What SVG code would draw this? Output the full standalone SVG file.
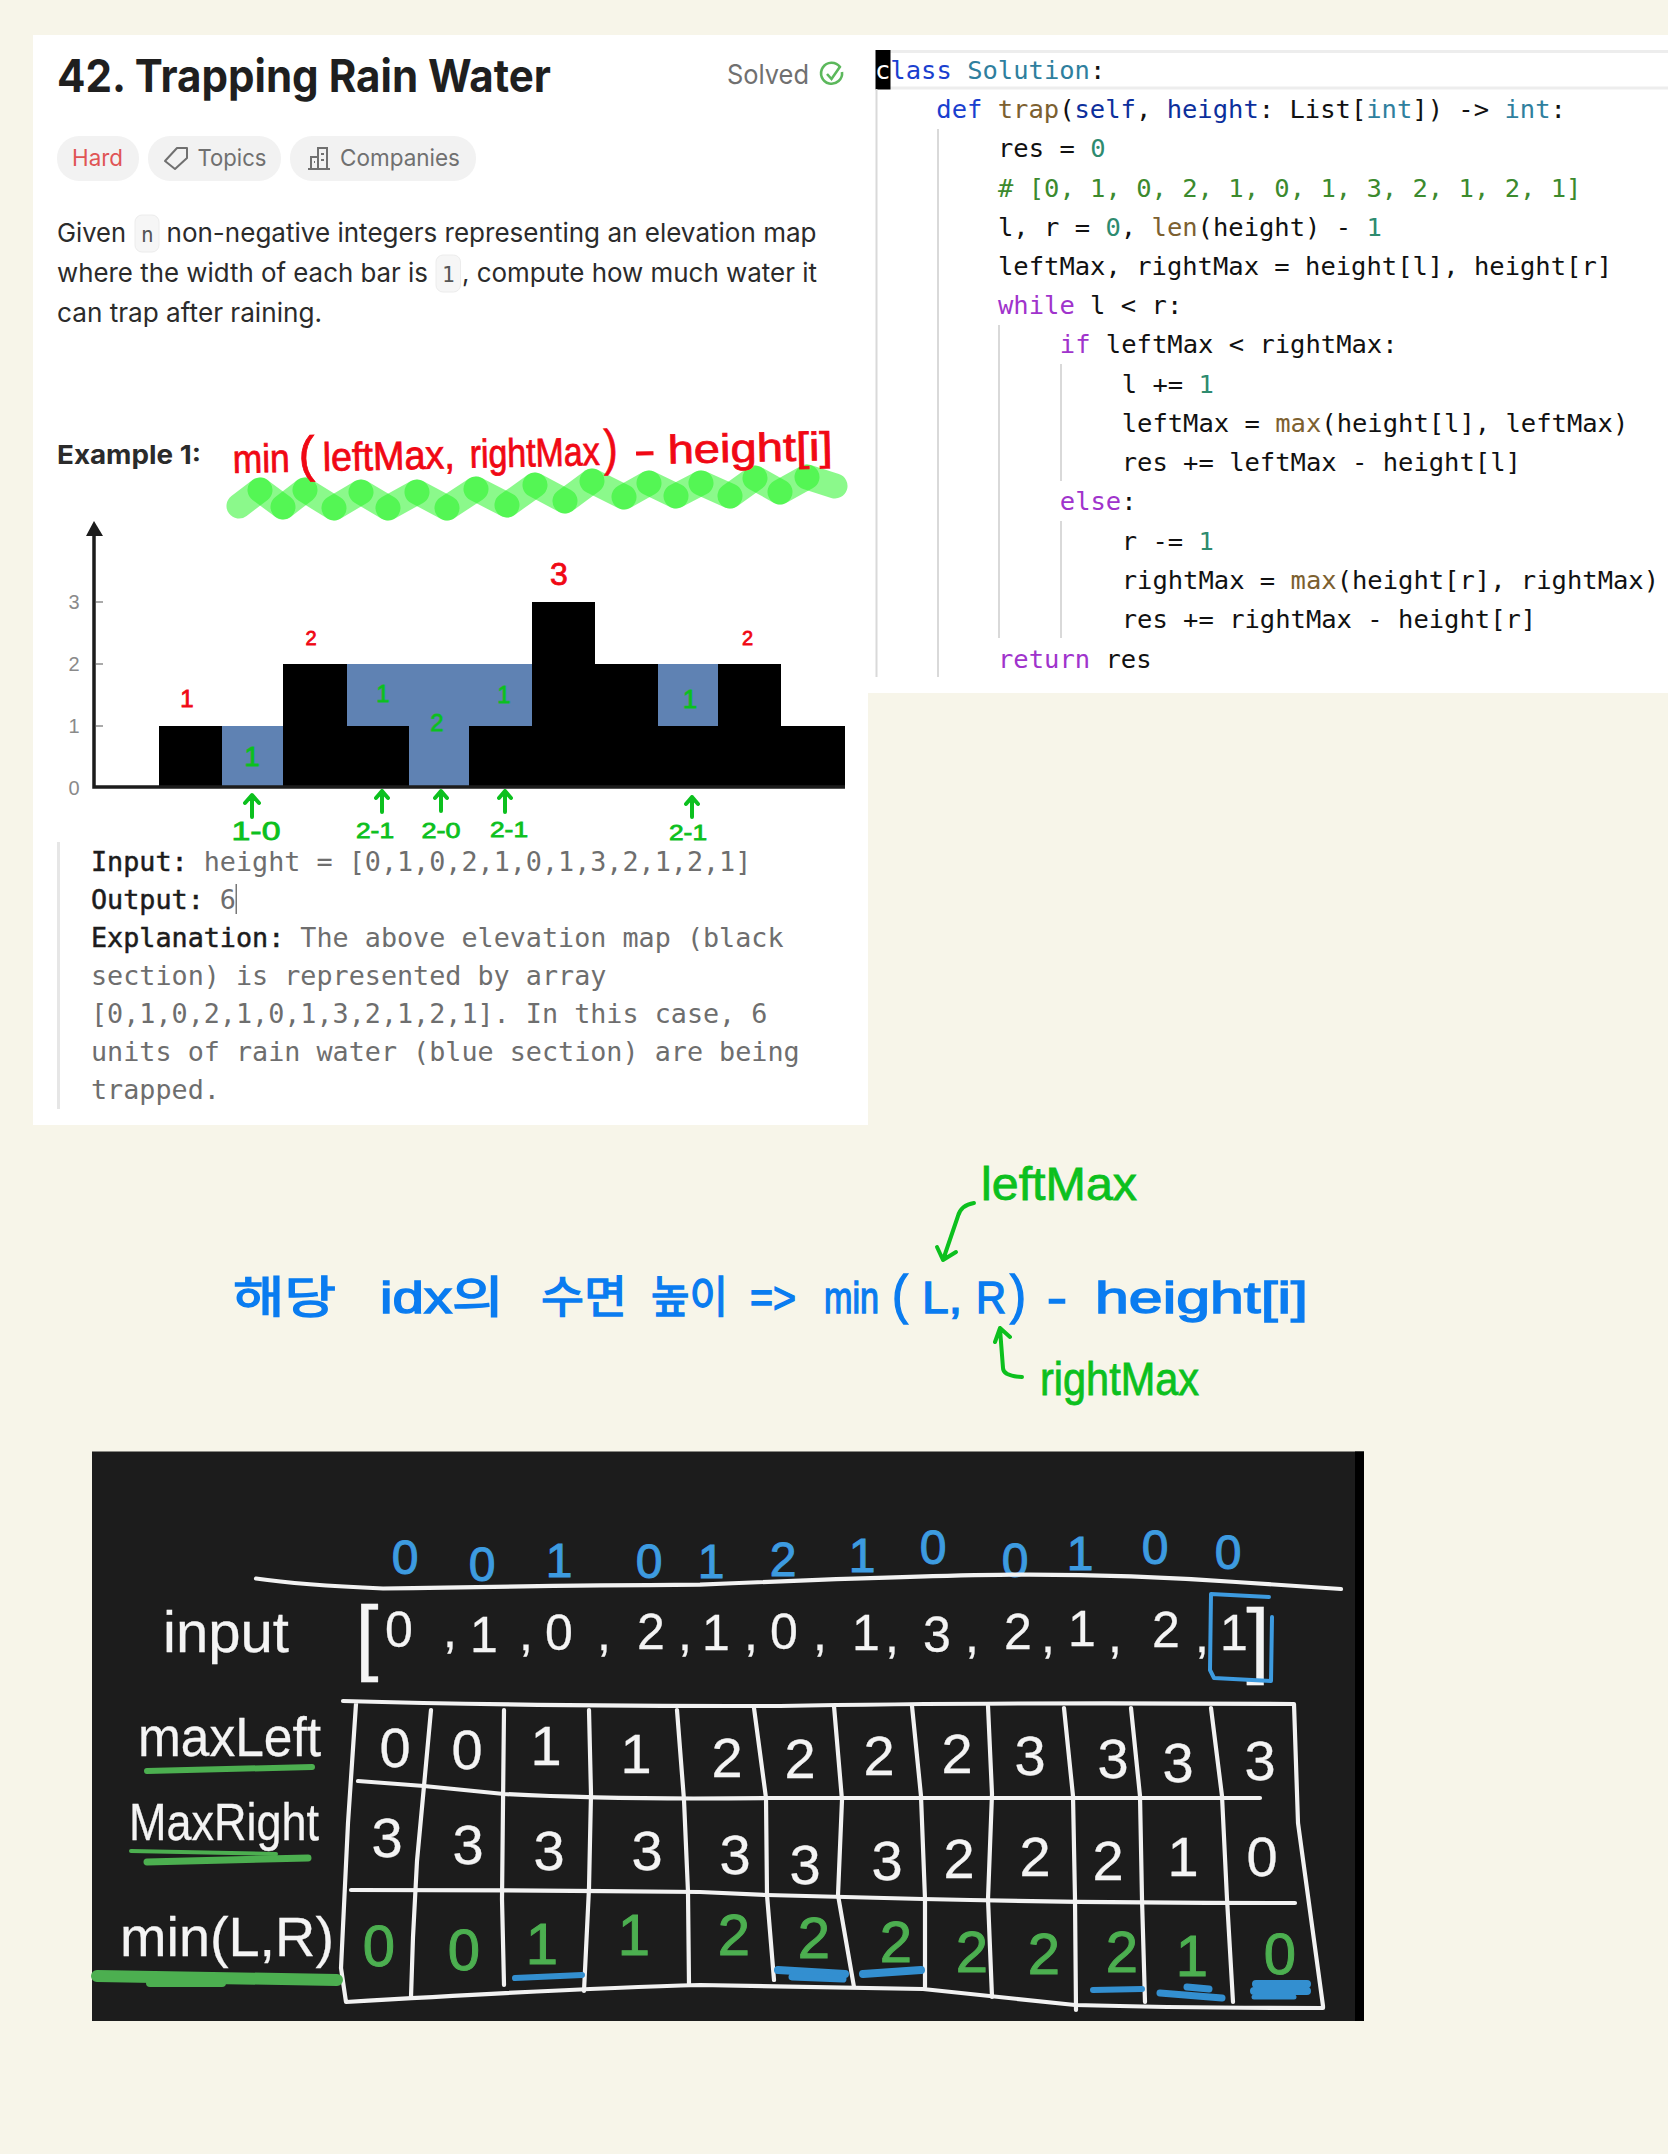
<svg xmlns="http://www.w3.org/2000/svg" width="1668" height="2154" viewBox="0 0 1668 2154">
<defs>
<style>
.ui{font-family:"Inter","Liberation Sans",sans-serif}
.mono{font-family:"DejaVu Sans Mono","Liberation Mono",monospace;white-space:pre}
.hand{font-family:"Liberation Sans","Noto Sans CJK KR",sans-serif}
.desc{font-size:26px;fill:#2b2b2b}
.pill{fill:#f2f2f2}
.pt{font-size:23px;fill:#707070}
.ex{font-size:26.75px;fill:#6e6e6e}
.lb{fill:#1c1c1c;stroke:#1c1c1c;stroke-width:.5}
.code{font-size:25.5px;fill:#111}
.k{fill:#a033cc}.d{fill:#1a3fcf}.ty{fill:#2f7f9e}.fn{fill:#7c6030}.v{fill:#0c2f9c}.n{fill:#2e8b6f}.c{fill:#3c8a2e}
.guide{stroke:#d9d9d9;stroke-width:2;fill:none}
.wave line{stroke:#22f522;stroke-width:25;stroke-linecap:round;opacity:.52}
.red{fill:#f00814;stroke:#f00814;stroke-width:.8;text-anchor:middle}
.grn{fill:#0cc01e;stroke:#0cc01e;stroke-width:.8;text-anchor:middle}
.arr{fill:none;stroke:#0cc01e;stroke-width:4;stroke-linecap:round;stroke-linejoin:round}
.tick{font-family:"Liberation Sans",sans-serif;font-size:20px;fill:#8a8a8a;text-anchor:middle}
.wl{fill:none;stroke:#f2f2f2;stroke-width:4.200;stroke-linecap:round;stroke-linejoin:round}
.wt{fill:#f4f4f4;stroke:#f4f4f4;stroke-width:.3}
.gt{fill:#4caf50;stroke:#4caf50;stroke-width:1;text-anchor:middle;font-family:"Liberation Sans",sans-serif}
.dig{font-family:"Liberation Sans",sans-serif;text-anchor:middle}
.gs{stroke:#4caf50;stroke-linecap:round;fill:none}
.bs{stroke:#338fd0;stroke-linecap:round;fill:none}
</style>
</defs>
<rect width="1668" height="2154" fill="#f7f5e9"/>

<g id="problem-panel">
<rect x="33" y="35" width="835" height="1090" fill="#fff"/>
<text class="ui" x="57" y="92" font-size="45" font-weight="700" fill="#1f1f1f" textLength="494" lengthAdjust="spacingAndGlyphs">42. Trapping Rain Water</text>
<text class="ui" x="727" y="84" font-size="27" fill="#707070" textLength="82" lengthAdjust="spacingAndGlyphs">Solved</text>
<path d="M840 67A10.5 10.5 0 1 0 842 72" fill="none" stroke="#5cb85c" stroke-width="2.6"/>
<path d="M827 74l4.500 5 9-13" fill="none" stroke="#5cb85c" stroke-width="2.6"/>
<rect class="pill" x="57" y="136" width="82" height="45" rx="22"/>
<rect class="pill" x="148" y="136" width="133" height="45" rx="22"/>
<rect class="pill" x="290" y="136" width="186" height="45" rx="22"/>
<text class="ui pt" x="72" y="166" style="fill:#e05555" textLength="51" lengthAdjust="spacingAndGlyphs">Hard</text>
<path d="M165 161l12-13h10v10l-12 11z" fill="none" stroke="#707070" stroke-width="2" stroke-linejoin="round"/>
<text class="ui pt" x="197.500" y="166" textLength="69" lengthAdjust="spacingAndGlyphs">Topics</text>
<path d="M308 169h22M311 169v-12h7v12M318 169v-21h9v21M321 154h3M321 160h3M314 162h1" fill="none" stroke="#707070" stroke-width="2"/>
<text class="ui pt" x="340" y="166" textLength="120" lengthAdjust="spacingAndGlyphs">Companies</text>
<rect x="135" y="215" width="24" height="37" rx="7" fill="#f6f6f6" stroke="#ececec"/>
<rect x="436" y="255" width="24.500" height="37" rx="7" fill="#f6f6f6" stroke="#ececec"/>
<text class="ui desc" y="242"><tspan x="57" textLength="69" lengthAdjust="spacingAndGlyphs">Given</tspan><tspan class="mono" x="141" style="font-size:21px;fill:#555">n</tspan><tspan x="166.500" textLength="650" lengthAdjust="spacingAndGlyphs">non-negative integers representing an elevation map</tspan></text>
<text class="ui desc" y="282"><tspan x="57" textLength="371" lengthAdjust="spacingAndGlyphs">where the width of each bar is</tspan><tspan class="mono" x="442" style="font-size:21px;fill:#555">1</tspan><tspan x="462" textLength="355" lengthAdjust="spacingAndGlyphs">, compute how much water it</tspan></text>
<text class="ui desc" x="57" y="322" textLength="265" lengthAdjust="spacingAndGlyphs">can trap after raining.</text>
<text class="ui" x="57" y="464" font-size="26" font-weight="700" fill="#2b2b2b" textLength="144" lengthAdjust="spacingAndGlyphs">Example 1:</text>
</g>

<g id="wave-highlight" class="wave">
<line x1="239" y1="506" x2="260" y2="490"/><line x1="260" y1="490" x2="283" y2="507"/><line x1="283" y1="507" x2="305" y2="490"/><line x1="305" y1="490" x2="334" y2="508"/><line x1="334" y1="508" x2="361" y2="492"/><line x1="361" y1="492" x2="388" y2="508"/><line x1="388" y1="508" x2="417" y2="492"/><line x1="417" y1="492" x2="447" y2="508"/><line x1="447" y1="508" x2="476" y2="489"/><line x1="476" y1="489" x2="507" y2="505"/><line x1="507" y1="505" x2="535" y2="485"/><line x1="535" y1="485" x2="565" y2="501"/><line x1="565" y1="501" x2="592" y2="481"/><line x1="592" y1="481" x2="624" y2="497"/><line x1="624" y1="497" x2="649" y2="483"/><line x1="649" y1="483" x2="676" y2="496"/><line x1="676" y1="496" x2="701" y2="483"/><line x1="701" y1="483" x2="730" y2="496"/><line x1="730" y1="496" x2="755" y2="478"/><line x1="755" y1="478" x2="780" y2="492"/><line x1="780" y1="492" x2="807" y2="477"/><line x1="807" y1="477" x2="835" y2="486"/>
</g>
<text id="formula-red" class="hand" transform="rotate(-1.250 233 473)" y="473" font-size="40" fill="#f00814" stroke="#f00814" stroke-width=".8"><tspan x="233" textLength="57" lengthAdjust="spacingAndGlyphs">min</tspan> <tspan x="299" font-size="50" textLength="16" lengthAdjust="spacingAndGlyphs">(</tspan><tspan x="323" textLength="132" lengthAdjust="spacingAndGlyphs">leftMax,</tspan> <tspan x="470" textLength="130" lengthAdjust="spacingAndGlyphs">rightMax</tspan><tspan x="604" font-size="50" textLength="14" lengthAdjust="spacingAndGlyphs">)</tspan> <tspan x="634" textLength="22" lengthAdjust="spacingAndGlyphs">-</tspan> <tspan x="668" textLength="165" lengthAdjust="spacingAndGlyphs">height[i]</tspan></text>

<g id="elevation-chart">
<path fill="#5f82b3" d="M222 726h61v61h-61zM347 664h185v62h-63v61h-60v-61h-62zM658 664h60v62h-60z"/>
<path fill="#000" d="M159 787v-61h63v61zM283 787v-123h64v62h62v61zM469 787v-61h63v-124h63v62h63v62h60v-62h63v62h64v61z"/>
<path d="M94 535V787H845" fill="none" stroke="#1c1c1c" stroke-width="3.500"/>
<path d="M94 521l-8 15h17z" fill="#1c1c1c"/>
<path d="M96 602h7M96 664h7M96 726h7" stroke="#aaa" stroke-width="2"/>
<text class="tick" x="74" y="609">3</text><text class="tick" x="74" y="671">2</text><text class="tick" x="74" y="733">1</text><text class="tick" x="74" y="795">0</text>
<g class="hand" font-size="24">
<text class="red" x="187" y="707">1</text><text class="red" x="311" y="645" font-size="20">2</text><text class="red" x="559" y="585" font-size="32">3</text><text class="red" x="747.500" y="645" font-size="20">2</text>
<text class="grn" x="252" y="766" font-size="28">1</text><text class="grn" x="383" y="702">1</text><text class="grn" x="437" y="731">2</text><text class="grn" x="504" y="703">1</text><text class="grn" x="690" y="708" font-size="26">1</text>
<text class="grn" x="256" y="840" font-size="26" textLength="49" lengthAdjust="spacingAndGlyphs">1-0</text>
<text class="grn" x="375" y="838" font-size="22" textLength="38" lengthAdjust="spacingAndGlyphs">2-1</text>
<text class="grn" x="441" y="838" font-size="22" textLength="39" lengthAdjust="spacingAndGlyphs">2-0</text>
<text class="grn" x="509" y="837" font-size="22" textLength="38" lengthAdjust="spacingAndGlyphs">2-1</text>
<text class="grn" x="688" y="840" font-size="22" textLength="38" lengthAdjust="spacingAndGlyphs">2-1</text>
</g>
<path class="arr" d="M252 817V796M245 803l7-8 7 8M382 812V791M376 798l6-7 6 7M441 811V792M435 798l6-7 6 7M505 812V791M499 798l6-7 6 7M692 817V797M686 804l6-7 6 7"/>
</g>

<g id="example-block">
<rect x="57" y="842" width="3" height="267" fill="#e6e6e6"/>
<text class="mono ex" x="91" y="871"><tspan class="lb">Input:</tspan> height = [0,1,0,2,1,0,1,3,2,1,2,1]</text>
<text class="mono ex" x="91" y="909"><tspan class="lb">Output:</tspan> 6</text>
<rect x="235.500" y="884" width="1.500" height="30" fill="#777"/>
<text class="mono ex" x="91" y="947"><tspan class="lb">Explanation:</tspan> The above elevation map (black</text>
<text class="mono ex" x="91" y="985">section) is represented by array</text>
<text class="mono ex" x="91" y="1023">[0,1,0,2,1,0,1,3,2,1,2,1]. In this case, 6</text>
<text class="mono ex" x="91" y="1061">units of rain water (blue section) are being</text>
<text class="mono ex" x="91" y="1099">trapped.</text>
</g>

<g id="code-panel">
<rect x="868" y="35" width="800" height="658" fill="#fff"/>
<path d="M890 51.500H1668M890 88H1668" stroke="#ededed" stroke-width="3" fill="none"/>
<rect x="875.500" y="50" width="15" height="39.500" fill="#000"/>
<path class="guide" d="M876.500 89V677M938 129V677M999 325V638M1061 364V481M1061 521V638"/>
<g class="mono code">
<text x="875" y="78.600"><tspan fill="#fff" style="fill:#fff">c</tspan><tspan class="d">lass</tspan> <tspan class="ty">Solution</tspan>:</text>
<text x="936.300" y="118"><tspan class="d">def</tspan> <tspan class="fn">trap</tspan>(<tspan class="v">self</tspan>, <tspan class="v">height</tspan>: List[<tspan class="ty">int</tspan>]) -&gt; <tspan class="ty">int</tspan>:</text>
<text x="998" y="157">res = <tspan class="n">0</tspan></text>
<text x="998" y="196.500" class="c" style="fill:#3c8a2e"># [0, 1, 0, 2, 1, 0, 1, 3, 2, 1, 2, 1]</text>
<text x="998" y="235.500">l, r = <tspan class="n">0</tspan>, <tspan class="fn">len</tspan>(height) - <tspan class="n">1</tspan></text>
<text x="998" y="275">leftMax, rightMax = height[l], height[r]</text>
<text x="998" y="314"><tspan class="k">while</tspan> l &lt; r:</text>
<text x="1059.800" y="353"><tspan class="k">if</tspan> leftMax &lt; rightMax:</text>
<text x="1121.700" y="392.500">l += <tspan class="n">1</tspan></text>
<text x="1121.700" y="432">leftMax = <tspan class="fn">max</tspan>(height[l], leftMax)</text>
<text x="1121.700" y="471">res += leftMax - height[l]</text>
<text x="1059.800" y="510"><tspan class="k">else</tspan>:</text>
<text x="1121.700" y="549.500">r -= <tspan class="n">1</tspan></text>
<text x="1121.700" y="589">rightMax = <tspan class="fn">max</tspan>(height[r], rightMax)</text>
<text x="1121.700" y="628">res += rightMax - height[r]</text>
<text x="998" y="667.500"><tspan class="k">return</tspan> res</text>
</g>
</g>

<g id="blue-note">
<text class="hand" y="1313" font-size="44" fill="#0a7cf0" stroke="#0a7cf0" stroke-width="1.400"><tspan x="233" textLength="103" lengthAdjust="spacingAndGlyphs">해당</tspan> <tspan x="380" textLength="124" lengthAdjust="spacingAndGlyphs">idx의</tspan> <tspan x="541" textLength="86" lengthAdjust="spacingAndGlyphs">수면</tspan> <tspan x="651" textLength="77" lengthAdjust="spacingAndGlyphs">높이</tspan> <tspan x="750" textLength="46" lengthAdjust="spacingAndGlyphs">=&gt;</tspan> <tspan x="824" textLength="55" lengthAdjust="spacingAndGlyphs">min</tspan><tspan x="892" textLength="16" lengthAdjust="spacingAndGlyphs" font-size="54">(</tspan><tspan x="922" textLength="40" lengthAdjust="spacingAndGlyphs">L,</tspan><tspan x="976" textLength="30" lengthAdjust="spacingAndGlyphs">R</tspan><tspan x="1010" textLength="16" lengthAdjust="spacingAndGlyphs" font-size="54">)</tspan> <tspan x="1047" textLength="20" lengthAdjust="spacingAndGlyphs">-</tspan> <tspan x="1095" textLength="213" lengthAdjust="spacingAndGlyphs">height[i]</tspan></text>
</g>
<g id="green-note">
<text class="hand" x="981" y="1200" font-size="46" fill="#0cc01e" stroke="#0cc01e" stroke-width=".8" textLength="156" lengthAdjust="spacingAndGlyphs">leftMax</text>
<text class="hand" x="1040" y="1395" font-size="46" fill="#0cc01e" stroke="#0cc01e" stroke-width=".8" textLength="159" lengthAdjust="spacingAndGlyphs">rightMax</text>
<path class="arr" d="M974 1203Q961 1205 958 1216L943 1260M937 1247L943 1260L956 1252"/>
<path class="arr" d="M1022 1377Q1003 1376 1003 1368L1000 1329M995 1342L1000 1328L1010 1337"/>
</g>

<g id="blackboard">
<rect x="92" y="1451.500" width="1272" height="569.500" fill="#1c1c1c"/>
<rect x="1355" y="1451.500" width="9" height="569.500" fill="#000"/>
<text class="dig" font-size="48" fill="#3d9be0" stroke="#3d9be0" x="405 482 559 649 711 783 862 933 1015 1080 1155 1228" y="1574 1581 1577 1578 1578 1576 1572 1564 1577 1570 1564 1569">001012100100</text>
<path class="wl" d="M256 1578.500Q300 1585 383 1588.500Q520 1586 700 1584.700Q900 1576 1012 1574.700Q1120 1574 1236 1582L1341 1589"/>
<text class="hand wt" x="163" y="1652" font-size="58" textLength="126" lengthAdjust="spacingAndGlyphs">input</text>
<text class="dig wt" font-size="50" x="367 399 450 484 526 559 604 651 685 716 751 784 820 866 892 937 972 1018 1048 1082 1115 1166 1202 1234 1258" y="1665 1647 1647 1652 1650 1650 1650 1649 1650 1650 1650 1649 1650 1650 1652 1652 1652 1649 1652 1646 1652 1647 1652 1650 1668"><tspan font-size="84">[</tspan>0,1,0,2,1,0,1,3,2,1,2,1<tspan font-size="84">]</tspan></text>
<path d="M1269 1597L1211 1594L1210 1670L1214 1678L1271 1681L1272 1617" fill="none" stroke="#3d9be0" stroke-width="4" stroke-linecap="round" stroke-linejoin="round"/>
<g class="wl">
<path d="M343 1701Q526 1706 780 1706Q1000 1702 1294 1704L1298 1823L1323 2006L1323 2008Q1180 2008 1075 2005L923 1989L700 1985Q580 1988 346 2002L341 1968L348 1823L356 1704"/>
<path d="M358 1781L424 1786L504 1794Q615 1800 767 1798Q1000 1797 1260 1798"/>
<path d="M351 1890Q526 1890 700 1892L767 1895L923 1899Q1100 1903 1295 1903"/>
<path d="M431 1710L424 1786L417 1861L413 1937L411 1997M504 1710L502 1899L504 1985M589 1710L591 1794L589 1888L584 1991M677 1710L684 1800L688 1892L689 1985M754 1708L766 1798L767 1895L774 1980M834 1706L842 1800L838 1895L854 1987M912 1706L921 1796L925 1899L925 1987M988 1706L992 1794L988 1899L992 1997M1064 1708L1073 1796L1075 1899L1076 2010M1131 1708L1140 1796L1142 1899L1145 2002M1211 1708L1222 1796L1227 1899L1233 2002"/>
</g>
<text class="hand wt" x="138" y="1756" font-size="56" textLength="183" lengthAdjust="spacingAndGlyphs">maxLeft</text>
<text class="hand wt" x="129" y="1840" font-size="52" textLength="190" lengthAdjust="spacingAndGlyphs">MaxRight</text>
<text class="hand wt" x="120" y="1956" font-size="56" textLength="214" lengthAdjust="spacingAndGlyphs">min(L,R)</text>
<path class="gs" stroke-width="6" d="M147 1771L312 1767"/>
<path class="gs" stroke-width="4" d="M131 1851L276 1854"/>
<path class="gs" stroke-width="7" d="M147 1862L308 1858"/>
<path class="gs" stroke-width="12" d="M97 1976L337 1980"/>
<path class="gs" stroke-width="8" d="M150 1983L222 1983"/>
<text class="dig wt" font-size="56" x="395 467 546 636 727 800 879 957 1030 1113 1178 1260" y="1767 1769 1765 1773 1777 1778 1775 1773 1775 1778 1782 1780">001122223333</text>
<text class="dig wt" font-size="56" x="387 468 549 647 735 805 887 959 1035 1108 1183 1262" y="1857 1864 1870 1870 1874 1884 1880 1878 1876 1880 1876 1876">333333322210</text>
<text class="gt" font-size="58" x="379 464 542 634 734 814 896 972 1044 1122 1192 1280" y="1966 1970 1964 1955 1955 1958 1962 1972 1974 1972 1976 1974">001122222210</text>
<path class="bs" stroke-width="6" d="M515 1978L582 1975M1093 1990L1142 1989"/>
<path class="bs" stroke-width="8" d="M778 1970L845 1974M863 1974L921 1970M1256 1984L1307 1984M1254 1991L1307 1991"/>
<path class="bs" stroke-width="7" d="M792 1977L843 1979M1160 1993L1222 1998M1187 1987L1209 1989"/>
<path class="bs" stroke-width="5" d="M1254 1997L1294 1997"/>
</g>
</svg>
